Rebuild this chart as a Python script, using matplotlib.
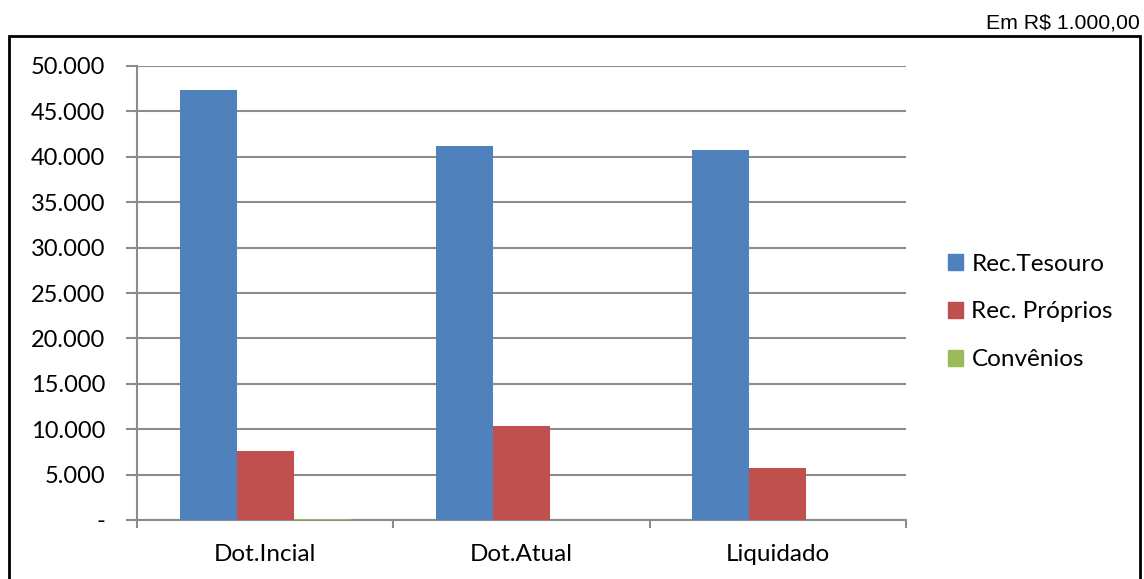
import matplotlib
matplotlib.use("Agg")
import matplotlib.pyplot as plt
from matplotlib.patches import Rectangle, Patch
import numpy as np

categories = ["Dot.Incial", "Dot.Atual", "Liquidado"]
series_names = ["Rec.Tesouro", "Rec. Próprios", "Convênios"]
rec_tesouro = [47350, 41200, 40750]
rec_proprios = [7600, 10350, 5730]
convenios = [60, 0, 0]
colors = ["#4F81BD", "#C0504D", "#9BBB59"]
yticks = [0, 5000, 10000, 15000, 20000, 25000, 30000, 35000, 40000, 45000, 50000]

def fmt(v):
    if v == 0:
        return "-"
    return f"{v:,.0f}".replace(",", ".")

W, H = 1144, 579
fig = plt.figure(figsize=(W / 100, H / 100), dpi=100)
plt.rcParams['font.family'] = ['Lato', 'DejaVu Sans']
FS = 17.5

# outer frame
fig.add_artist(Rectangle((9 / W, -0.05), (1140 - 9) / W, 1 - 36 / H + 0.05,
                         transform=fig.transFigure, fill=False,
                         edgecolor="black", linewidth=2))
fig.text(1140 / W, 1 - 23 / H, "Em R$ 1.000,00", ha="right", va="center",
         fontsize=15.3, family="Liberation Sans")

ax = fig.add_axes([137 / W, 1 - 520 / H, (906 - 137) / W, (520 - 66) / H])
x = np.arange(len(categories))
bw = 1 / 4.5
data = [rec_tesouro, rec_proprios, convenios]
for i, (vals, c, n) in enumerate(zip(data, colors, series_names)):
    ax.bar(x + (i - 1) * bw, vals, width=bw, color=c, label=n, zorder=3,
           linewidth=0)

ax.set_xlim(-0.5, len(categories) - 0.5)
ax.set_ylim(0, 50000)
ax.set_yticks(yticks)
ax.set_yticklabels([fmt(v) for v in yticks], fontsize=17)
ax.yaxis.grid(True, color="#8C8C8C", linewidth=1.5, zorder=0)
ax.set_xticks(np.arange(len(categories) + 1) - 0.5)
ax.set_xticklabels([])
ax.set_xticks(x, minor=True)
ax.set_xticklabels(categories, minor=True, fontsize=FS)
ax.tick_params(axis="x", which="major", length=6, width=1.5, color="#8C8C8C")
ax.tick_params(axis="x", which="minor", length=0, pad=17)
ax.tick_params(axis="y", length=8, width=1.5, color="#8C8C8C", pad=15)
for s in ["top", "right"]:
    ax.spines[s].set_visible(False)
for s in ["left", "bottom"]:
    ax.spines[s].set_color("#8C8C8C")
    ax.spines[s].set_linewidth(1.5)

handles = [Patch(color=c) for c in colors]
fig.legend(handles, series_names, loc="center left",
           bbox_to_anchor=(926 / W, 1 - 312 / H), frameon=False,
           fontsize=FS, handlelength=0.62, handleheight=0.62,
           handletextpad=0.35, labelspacing=1.1)

fig.savefig("out.png", dpi=100)
